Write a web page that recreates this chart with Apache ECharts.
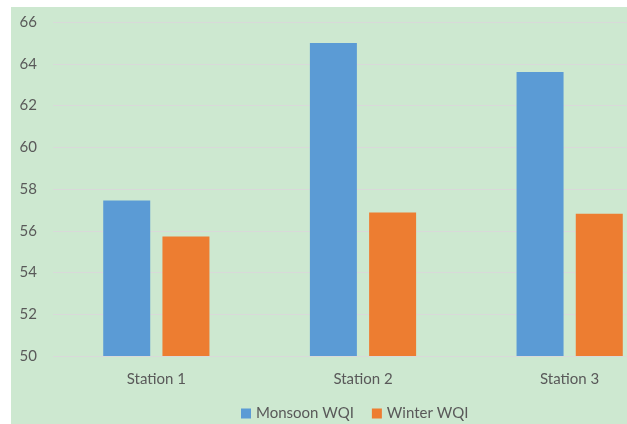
<!DOCTYPE html>
<html>
<head>
<meta charset="utf-8">
<script src="https://cdn.jsdelivr.net/npm/echarts@6/dist/echarts.min.js"></script>
<style>
    html, body { margin: 0; padding: 0; background: #fff; overflow: hidden; width: 627px; height: 424px; }
    #wrap { position: absolute; left: 11px; top: 7px; width: 616px; height: 417px; overflow: hidden; background: #cde8d0; }
    #chart { position: absolute; left: 0; top: 0; width: 662px; height: 417px; }
</style>
</head>
<body>
<div id="wrap"><div id="chart"></div></div>
<script>
var stations = ['Station 1', 'Station 2', 'Station 3'];
var monsoon = [57.45, 65.0, 63.6];
var winter = [55.72, 56.87, 56.82];
var yTicks = { min: 50, max: 66, step: 2 };

var myChart = echarts.init(document.getElementById('chart'));
var font = 'Lato, "Open Sans", sans-serif';
var option = {
    animation: false,
    textStyle: { fontFamily: font },
    legend: {
        bottom: -2,
        left: 225,
        itemWidth: 10,
        itemHeight: 10,
        itemGap: 18,
        icon: 'rect',
        textStyle: { color: '#595959', fontSize: 15, fontFamily: font },
        data: ['Monsoon WQI', 'Winter WQI']
    },
    grid: {
        left: 42,
        top: 15,
        right: 0,
        bottom: 68,
        containLabel: false
    },
    xAxis: {
        type: 'category',
        data: stations,
        axisLine: { show: false },
        axisTick: { show: false },
        axisLabel: { color: '#595959', fontSize: 15, margin: 16 }
    },
    yAxis: {
        type: 'value',
        min: yTicks.min,
        max: yTicks.max,
        interval: yTicks.step,
        axisLine: { show: false },
        axisTick: { show: false },
        axisLabel: { color: '#595959', fontSize: 15, margin: 16 },
        splitLine: { lineStyle: { color: '#d9d9d9', width: 1 } }
    },
    series: [{
        name: 'Monsoon WQI',
        type: 'bar',
        barWidth: 47,
        barGap: '26%',
        itemStyle: { color: '#5b9bd5' },
        data: monsoon
    }, {
        name: 'Winter WQI',
        type: 'bar',
        barWidth: 47,
        itemStyle: { color: '#ed7d31' },
        data: winter
    }]
};
myChart.setOption(option);
</script>
</body>
</html>
